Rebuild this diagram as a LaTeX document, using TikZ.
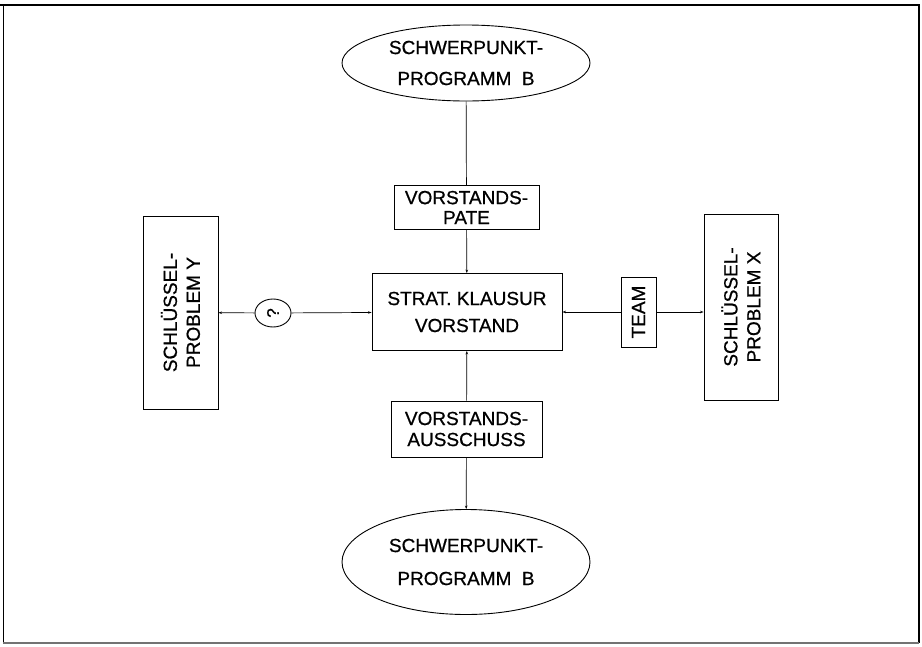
\documentclass[tikz,border=0pt]{standalone}
\usepackage{fontspec}
\setmainfont{Liberation Sans}
\newfontfamily\heavysans[FakeBold=0.7]{Liberation Sans}
\usetikzlibrary{shapes.geometric,arrows.meta}
\tikzset{
  box/.style={draw, line width=0.9pt, inner sep=0pt, align=center,
    font=\heavysans\fontsize{19}{21}\selectfont},
  oval/.style={box, ellipse},
  link/.style={line width=0.7pt},
  tip/.style={link, -{Stealth[length=3.5pt,width=2.5pt]}},
}
\begin{document}
\begin{tikzpicture}[x=1pt, y=-1pt]
\useasboundingbox (0,0) rectangle (922,646);
% frame of the sheet
\draw[line width=1.1pt] (0,5) -- (919,5);
\draw[line width=0.9pt] (3,5) -- (3,643);
\draw[line width=2pt] (919,4) -- (919,643);
\draw[line width=1.2pt, black!55] (3,643) -- (919,643);

% programmes
\node[oval, minimum width=248pt, minimum height=76pt,
      font=\heavysans\fontsize{19}{31}\selectfont] (top) at (466,63)
  {SCHWERPUNKT-\\PROGRAMM\hspace{0.55em}B};
\node[oval, minimum width=248pt, minimum height=105pt,
      font=\heavysans\fontsize{19}{33}\selectfont] (bot) at (466,562)
  {SCHWERPUNKT-\\PROGRAMM\hspace{0.55em}B};

% central retreat and the bodies around it
\node[box, minimum width=190pt, minimum height=77pt,
      font=\heavysans\fontsize{19}{27}\selectfont] (strat) at (467,312)
  {STRAT. KLAUSUR\\VORSTAND};
\node[box, minimum width=145pt, minimum height=44pt,
      font=\heavysans\fontsize{19}{20}\selectfont] (pate) at (466.5,207.5)
  {VORSTANDS-\\PATE};
\node[box, minimum width=151pt, minimum height=56pt] (aus) at (466.5,429)
  {VORSTANDS-\\AUSSCHUSS};

% key problems (text runs upwards)
\node[box, rotate=90, minimum width=193pt, minimum height=75pt,
      font=\heavysans\fontsize{19}{23}\selectfont] (Y) at (180.5,312.5)
  {SCHLÜSSEL-\\PROBLEM Y};
\node[box, rotate=90, minimum width=186pt, minimum height=74pt,
      font=\heavysans\fontsize{19}{23}\selectfont] (X) at (741,307)
  {SCHLÜSSEL-\\PROBLEM X};
\node[box, rotate=90, minimum width=70pt, minimum height=35pt] (team) at (638.5,312)
  {TEAM};
\node[box, ellipse, rotate=90, minimum width=28pt, minimum height=36pt,
      font=\heavysans\fontsize{17}{18}\selectfont] (q) at (273,313) {?};

% connections
\draw[link] (top) -- (pate);
\draw[tip] (pate) -- (strat);
\draw[tip] (aus) -- (strat);
\draw[tip] (aus) -- (bot);
\draw[tip] (q) -- (Y);
\draw[tip] (q) -- (strat);
\draw[tip] (team) -- (strat);
\draw[tip] (team) -- (team -| X.north);
\end{tikzpicture}
\end{document}
